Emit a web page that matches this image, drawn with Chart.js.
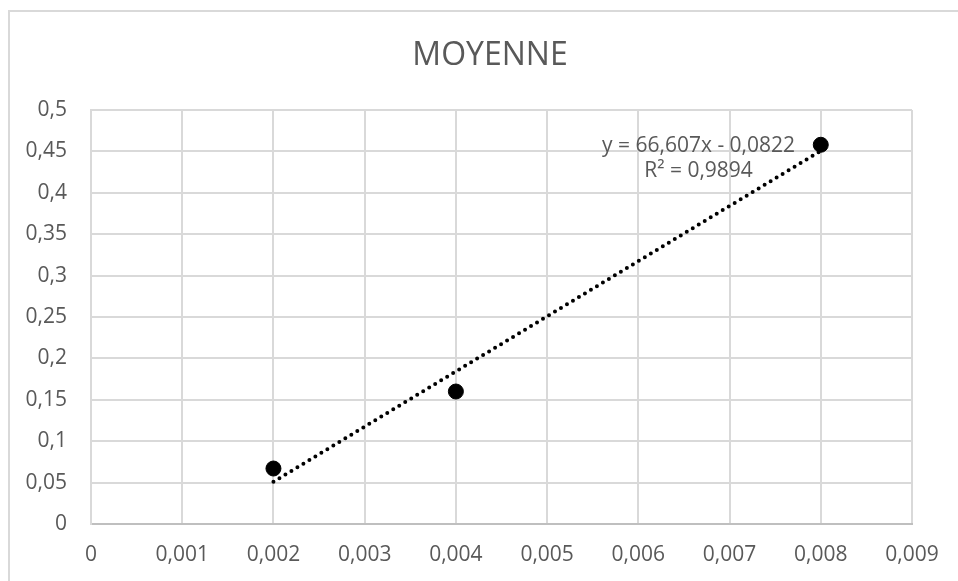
<!DOCTYPE html>
<html>
<head>
<meta charset="utf-8">
<script src="https://cdn.jsdelivr.net/npm/chart.js@4/dist/chart.umd.min.js"></script>
<style>
  body { margin: 0; background: #fff; overflow: hidden; }
  #wrap { position: relative; width: 958px; height: 581px; }
  #frame { position: absolute; left: 8px; top: 10px; width: 1000px; height: 600px; border: 2px solid #d9d9d9; }
  canvas { position: absolute; left: 0; top: 0; }
</style>
</head>
<body>
<div id="wrap">
  <div id="frame"></div>
  <canvas id="chart" width="958" height="581"></canvas>
</div>
<script>
// measured points
const concentrations = [0.002, 0.004, 0.008];
const moyennes = [0.067, 0.160, 0.458];

// linear trendline ends (from the equation shown on the chart)
const trendX = [0.002, 0.008];
const trendY = [0.0510, 0.4507];
const equationLines = ['y = 66,607x - 0,0822', 'R² = 0,9894'];
const chartTitle = 'MOYENNE';

const xTickLabels = ['0', '0,001', '0,002', '0,003', '0,004', '0,005', '0,006', '0,007', '0,008', '0,009'];
const yTickLabels = ['0', '0,05', '0,1', '0,15', '0,2', '0,25', '0,3', '0,35', '0,4', '0,45', '0,5'];

const grey = '#595959';
const fontFam = '"Open Sans", "Noto Sans", sans-serif';

// title + equation text, drawn by hand so they sit where Excel put them
const labels = {
  id: 'labels',
  afterDatasetsDraw(chart) {
    const { ctx, scales } = chart;
    ctx.save();
    ctx.fillStyle = grey;
    ctx.textAlign = 'center';
    ctx.textBaseline = 'middle';
    ctx.font = '32px ' + fontFam;
    ctx.fillText(chartTitle, 490, 56);
    const cx = scales.x.getPixelForValue(0.00666);
    const cy = scales.y.getPixelForValue(0.4565);
    ctx.font = '21px ' + fontFam;
    equationLines.forEach((line, i) => ctx.fillText(line, cx, cy + i * 25));
    ctx.restore();
  }
};

new Chart(document.getElementById('chart'), {
  type: 'scatter',
  data: {
    datasets: [
      {
        label: 'MOYENNE',
        data: concentrations.map((x, i) => ({ x: x, y: moyennes[i] })),
        backgroundColor: '#000',
        borderColor: '#000',
        pointRadius: 7.5,
        order: 1
      },
      {
        label: 'Linéaire',
        data: trendX.map((x, i) => ({ x: x, y: trendY[i] })),
        showLine: true,
        borderColor: '#000',
        borderWidth: 4,
        borderDash: [0, 7],
        borderCapStyle: 'round',
        pointRadius: 0,
        order: 2
      }
    ]
  },
  options: {
    responsive: false,
    animation: false,
    layout: { padding: { top: 110, right: 46, bottom: 0 } },
    plugins: {
      legend: { display: false },
      tooltip: { enabled: false },
      title: { display: false }
    },
    scales: {
      x: {
        type: 'linear',
        min: 0,
        max: 0.009,
        afterFit: (s) => { s.height = 57; },
        ticks: {
          stepSize: 0.001,
          color: grey,
          padding: 18,
          font: { family: fontFam, size: 21 },
          callback: (v, i) => xTickLabels[i]
        },
        grid: { color: '#d9d9d9', lineWidth: 2, drawTicks: false },
        border: { color: '#bfbfbf', width: 2 }
      },
      y: {
        min: 0,
        max: 0.5,
        afterFit: (s) => { s.width = 91; },
        ticks: {
          stepSize: 0.05,
          color: grey,
          padding: 24,
          font: { family: fontFam, size: 21 },
          callback: (v, i) => yTickLabels[i]
        },
        grid: { color: '#d9d9d9', lineWidth: 2, drawTicks: false },
        border: { color: '#d9d9d9', width: 2 }
      }
    }
  },
  plugins: [labels]
});
</script>
</body>
</html>
